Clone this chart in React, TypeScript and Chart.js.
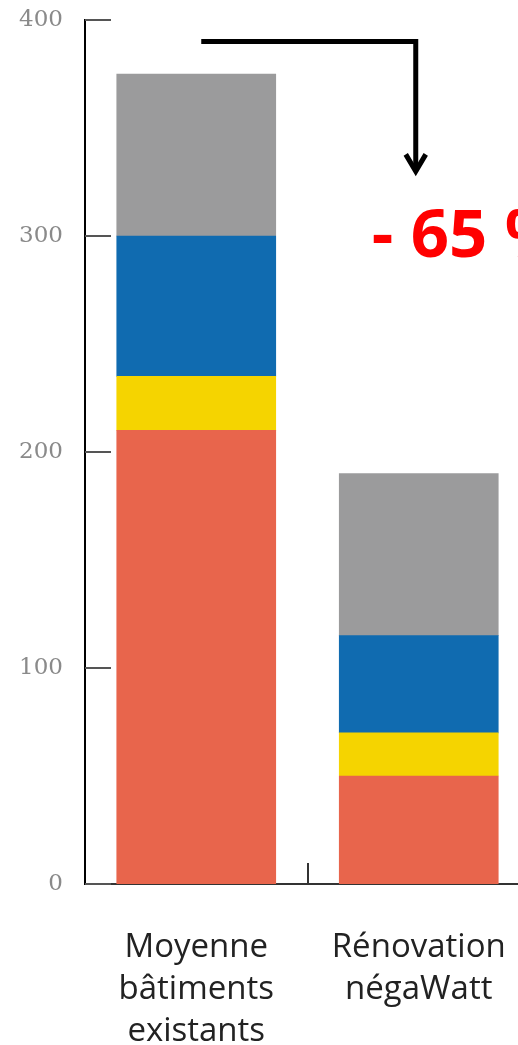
import React, { useEffect, useRef } from "react";
import { Chart, registerables } from "chart.js";

Chart.register(...registerables);

// ---- Data ----
const categories: string[][] = [
  ["Moyenne", "bâtiments", "existants"],
  ["Rénovation", "négaWatt"],
];
const seriesNames = ["Poste 1", "Poste 2", "Poste 3", "Poste 4"];
const redValues = [210, 50];
const yellowValues = [25, 20];
const blueValues = [65, 45];
const grayValues = [75, 75];
const yTickValues = [0, 100, 200, 300, 400];
const reductionLabel = "- 65 %";
const arrowTopValue = 390;
const arrowTipValue = 329;
const reductionLabelValue = 299;

const colors = ["#E8654C", "#F5D400", "#106BB0", "#9B9B9C"];

const annotationPlugin = {
  id: "annotations",
  afterDraw(chart: any) {
    const { ctx, chartArea } = chart;
    const x = chart.scales.x;
    const y = chart.scales.y;
    ctx.save();
    // inward y tick marks
    ctx.strokeStyle = "#555";
    ctx.lineWidth = 2;
    yTickValues.forEach((v) => {
      const py = Math.round(y.getPixelForValue(v));
      ctx.beginPath();
      ctx.moveTo(chartArea.left, py);
      ctx.lineTo(chartArea.left + 26, py);
      ctx.stroke();
    });
    // category separator tick
    const sx = Math.round((x.getPixelForValue(0) + x.getPixelForValue(1)) / 2);
    ctx.strokeStyle = "#333";
    ctx.beginPath();
    ctx.moveTo(sx, chartArea.bottom);
    ctx.lineTo(sx, chartArea.bottom - 21);
    ctx.stroke();
    // arrow
    const x1 = x.getPixelForValue(0) + 5;
    const x2 = x.getPixelForValue(1) - 3;
    const yTop = y.getPixelForValue(arrowTopValue);
    const yTip = y.getPixelForValue(arrowTipValue);
    ctx.strokeStyle = "#000";
    ctx.lineWidth = 5;
    ctx.lineJoin = "miter";
    ctx.beginPath();
    ctx.moveTo(x1, yTop);
    ctx.lineTo(x2, yTop);
    ctx.lineTo(x2, yTip - 2);
    ctx.stroke();
    ctx.beginPath();
    ctx.moveTo(x2 - 10, yTip - 19);
    ctx.lineTo(x2, yTip - 2);
    ctx.lineTo(x2 + 10, yTip - 19);
    ctx.stroke();
    // reduction label
    ctx.font = "bold 67px 'Open Sans'";
    ctx.fillStyle = "#FF0000";
    ctx.textAlign = "left";
    ctx.textBaseline = "middle";
    ctx.fillText(reductionLabel, x2 - 44, y.getPixelForValue(reductionLabelValue));
    ctx.restore();
  },
};

export default function App() {
  const canvasRef = useRef<HTMLCanvasElement | null>(null);

  useEffect(() => {
    const canvas = canvasRef.current;
    if (!canvas) return;
    const seriesValues = [redValues, yellowValues, blueValues, grayValues];
    const chart = new Chart(canvas, {
      type: "bar",
      data: {
        labels: categories,
        datasets: seriesValues.map((vals, i) => ({
          label: seriesNames[i],
          data: vals,
          backgroundColor: colors[i],
          borderWidth: 0,
          barThickness: 159,
        })),
      },
      options: {
        responsive: false,
        animation: false,
        devicePixelRatio: 1,
        layout: { padding: { top: 20, left: 0, right: 0, bottom: 0 } },
        plugins: {
          legend: { display: false },
          tooltip: { enabled: false },
          title: { display: false },
        },
        scales: {
          x: {
            stacked: true,
            offset: true,
            grid: { display: false, drawTicks: false },
            border: { display: true, color: "#333", width: 2 },
            ticks: {
              color: "#222",
              padding: 43,
              maxRotation: 0,
              autoSkip: false,
              font: { family: "'Open Sans'", size: 33, lineHeight: 1.27 },
            },
            afterFit(scale: any) {
              scale.height = 161;
              scale.paddingLeft = 0;
              scale.paddingRight = 0;
              scale.paddingTop = 0;
              scale.paddingBottom = 0;
            },
          },
          y: {
            stacked: true,
            min: 0,
            max: 400,
            grid: { display: false, drawTicks: false },
            border: { display: true, color: "#000", width: 2 },
            ticks: {
              stepSize: 100,
              color: "#8a8a8a",
              padding: 22,
              font: { family: "'DejaVu Serif'", size: 23 },
            },
            afterFit(scale: any) {
              scale.width = 85;
              scale.paddingLeft = 0;
              scale.paddingRight = 0;
              scale.paddingTop = 0;
              scale.paddingBottom = 0;
            },
          },
        },
      },
      plugins: [annotationPlugin],
    });
    return () => chart.destroy();
  }, []);

  return (
    <div
      style={{
        position: "absolute",
        left: 0,
        top: 0,
        width: 518,
        height: 1045,
        overflow: "hidden",
        background: "#fff",
      }}
    >
      <canvas ref={canvasRef} width={530} height={1045} style={{ display: "block" }} />
    </div>
  );
}
